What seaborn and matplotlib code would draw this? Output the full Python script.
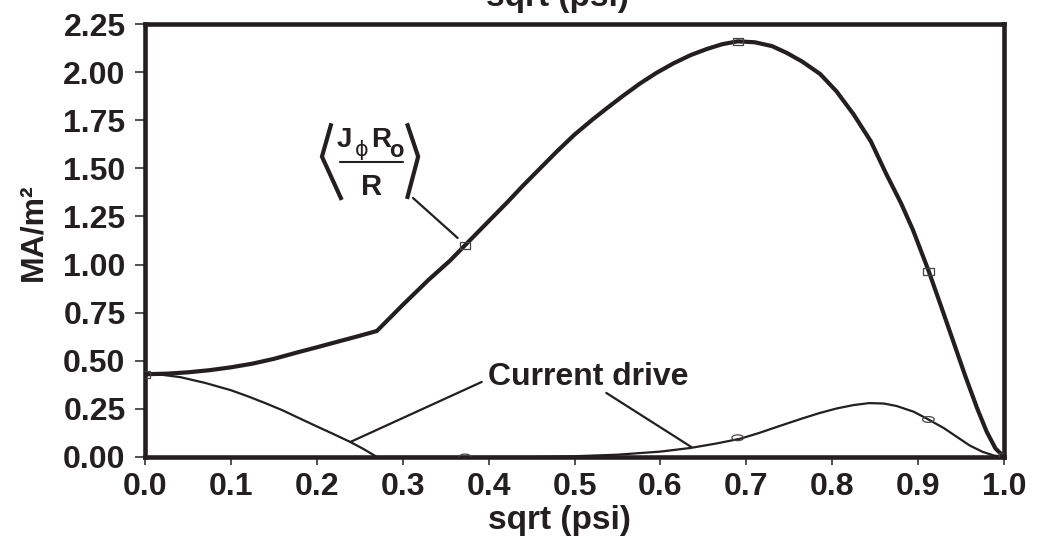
import numpy as np
import pandas as pd
import matplotlib
matplotlib.use("Agg")
import matplotlib.pyplot as plt
from matplotlib import font_manager
from matplotlib.path import Path
import seaborn as sns

# ---------------- data ----------------
jphi_x = [0.00, 0.025, 0.05, 0.075, 0.10, 0.125, 0.15, 0.177, 0.20, 0.225, 0.25,
          0.27, 0.30, 0.33, 0.355, 0.3725, 0.40, 0.421, 0.44, 0.46, 0.48, 0.50,
          0.52, 0.537, 0.556, 0.576, 0.595, 0.615, 0.635, 0.654, 0.672, 0.69,
          0.71, 0.73, 0.747, 0.765, 0.786, 0.805, 0.825, 0.845, 0.863, 0.88,
          0.894, 0.912, 0.927, 0.941, 0.955, 0.969, 0.98, 0.99, 1.00]
jphi_y = [0.43, 0.433, 0.44, 0.451, 0.466, 0.485, 0.51, 0.543, 0.57, 0.60, 0.63,
          0.655, 0.79, 0.92, 1.02, 1.10, 1.225, 1.32, 1.41, 1.50, 1.59, 1.675,
          1.75, 1.81, 1.875, 1.94, 1.995, 2.045, 2.088, 2.12, 2.145, 2.16,
          2.155, 2.135, 2.10, 2.055, 1.99, 1.90, 1.78, 1.64, 1.47, 1.32,
          1.18, 0.97, 0.78, 0.60, 0.42, 0.25, 0.13, 0.045, 0.00]

cd_x = [0.00, 0.02, 0.041, 0.07, 0.10, 0.12, 0.14, 0.16, 0.177, 0.20, 0.22,
        0.239, 0.255, 0.27, 0.37, 0.45, 0.50, 0.55, 0.60, 0.635, 0.665, 0.693,
        0.715, 0.74, 0.765, 0.785, 0.805, 0.825, 0.843, 0.86, 0.875, 0.895,
        0.912, 0.93, 0.945, 0.96, 0.975, 0.988, 1.00]
cd_y = [0.43, 0.427, 0.415, 0.385, 0.347, 0.315, 0.28, 0.243, 0.207, 0.159, 0.118,
        0.078, 0.04, 0.0, 0.0, 0.0, 0.004, 0.012, 0.028, 0.047, 0.07, 0.095,
        0.125, 0.163, 0.20, 0.228, 0.252, 0.27, 0.28, 0.278, 0.265, 0.235,
        0.195, 0.15, 0.105, 0.06, 0.027, 0.008, 0.0]

jphi_mark_x = [0.0, 0.3725, 0.69, 0.912, 1.0]
jphi_mark_y = [0.43, 1.098, 2.16, 0.965, 0.0]
cd_mark_x = [0.3725, 0.69, 0.912]
cd_mark_y = [0.0, 0.10, 0.195]

x_ticks = [0.0, 0.1, 0.2, 0.3, 0.4, 0.5, 0.6, 0.7, 0.8, 0.9, 1.0]
y_ticks = [0.00, 0.25, 0.50, 0.75, 1.00, 1.25, 1.50, 1.75, 2.00, 2.25]
x_label = "sqrt (psi)"
y_label = "MA/m²"
cd_label = "Current drive"

# ---------------- style ----------------
sns.set_theme(style="white")
avail = {f.name for f in font_manager.fontManager.ttflist}
fam = [f for f in ["Liberation Sans Narrow", "Liberation Sans", "DejaVu Sans"] if f in avail]
plt.rcParams["font.family"] = fam
plt.rcParams["font.weight"] = "bold"
INK = "#231f20"

fig = plt.figure(figsize=(10.38, 5.47), dpi=100)
ax = fig.add_axes([145 / 1038, 1 - 457 / 547, (1004 - 145) / 1038, (457 - 24) / 547])

df_j = pd.DataFrame({"x": jphi_x, "y": jphi_y})
df_c = pd.DataFrame({"x": cd_x, "y": cd_y})
sns.lineplot(data=df_c, x="x", y="y", ax=ax, color=INK, lw=1.6, sort=False,
             estimator=None, zorder=3)
sns.lineplot(data=df_j, x="x", y="y", ax=ax, color=INK, lw=3.0, sort=False,
             estimator=None, zorder=4)
for ln in ax.lines:
    ln.set_solid_joinstyle("round")

rect = Path([(-1, -0.7), (1, -0.7), (1, 0.7), (-1, 0.7), (-1, -0.7)],
            [Path.MOVETO, Path.LINETO, Path.LINETO, Path.LINETO, Path.CLOSEPOLY])
t = np.linspace(0, 2 * np.pi, 40)
ell = Path(np.column_stack([np.cos(t), 0.5 * np.sin(t)]))

sns.scatterplot(x=jphi_mark_x, y=jphi_mark_y, ax=ax, marker=rect, s=55,
                facecolor="none", edgecolor="#444444", linewidth=0.9, zorder=5)
sns.scatterplot(x=cd_mark_x, y=cd_mark_y, ax=ax, marker=ell, s=70,
                facecolor="none", edgecolor="#444444", linewidth=0.9, zorder=5)

ax.set_xlim(0, 1)
ax.set_ylim(0, 2.25)
ax.set_xticks(x_ticks)
ax.set_xticklabels([f"{v:.1f}" for v in x_ticks])
ax.set_yticks(y_ticks)
ax.set_yticklabels([f"{v:.2f}" for v in y_ticks])
ax.tick_params(axis="y", direction="out", length=7, width=1.1, pad=7,
               labelsize=23, colors=INK, left=True)
ax.tick_params(axis="x", direction="out", length=6, width=1.1, pad=5,
               labelsize=23, colors=INK, bottom=True)
for lab in ax.get_xticklabels() + ax.get_yticklabels():
    lab.set_fontweight("bold")
for sp in ax.spines.values():
    sp.set_visible(True)
    sp.set_linewidth(3.3)
    sp.set_color(INK)

ax.set_xlabel(x_label, fontsize=24, fontweight="bold", color=INK, va="top")
ax.xaxis.set_label_coords(0.483, -0.11)
ax.set_ylabel(y_label, fontsize=23, fontweight="bold", color=INK, va="center")
ax.yaxis.set_label_coords(-0.13, 0.52)

# cut-off duplicate axis title at top
fig.text(557 / 1038, 1 - 6 / 547, x_label, ha="center", va="baseline",
         fontsize=24, fontweight="bold", color=INK)

# ---------------- annotations ----------------
def lead(p0, p1, lw=1.6):
    ax.annotate("", xy=p1, xytext=p0,
                arrowprops=dict(arrowstyle="-", lw=lw, color=INK,
                                shrinkA=0, shrinkB=0))

lead((0.312, 1.346), (0.364, 1.138))
lead((0.392, 0.390), (0.239, 0.078))
lead((0.537, 0.333), (0.636, 0.052))

ax.text(0.399, 0.374, cd_label, ha="left", va="baseline", fontsize=23,
        fontweight="bold", color=INK)

# <J_phi R_o / R> label
lb = ([0.217, 0.206, 0.229], [1.734, 1.561, 1.336])
rb = ([0.305, 0.318, 0.305], [1.734, 1.561, 1.341])
ax.plot(*lb, color=INK, lw=3.0, solid_capstyle="butt", solid_joinstyle="miter")
ax.plot(*rb, color=INK, lw=3.0, solid_capstyle="butt", solid_joinstyle="miter")
ax.plot([0.227, 0.300], [1.535, 1.535], color=INK, lw=1.5)
ax.text(0.223, 1.613, "J", ha="left", va="baseline", fontsize=20,
        fontweight="bold", color=INK)
ax.text(0.252, 1.562, "ϕ", ha="center", va="baseline", fontsize=15,
        fontweight="normal", color=INK, family=["DejaVu Sans"])
ax.text(0.263, 1.613, "R", ha="left", va="baseline", fontsize=20,
        fontweight="bold", color=INK)
ax.text(0.284, 1.561, "o", ha="left", va="baseline", fontsize=17,
        fontweight="bold", color=INK)
ax.text(0.251, 1.362, "R", ha="left", va="baseline", fontsize=21,
        fontweight="bold", color=INK)

fig.savefig("out.png", dpi=100)
